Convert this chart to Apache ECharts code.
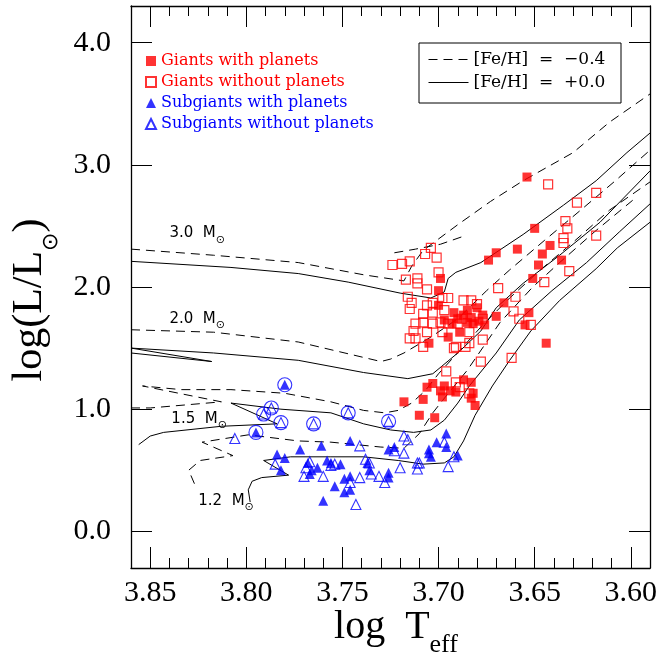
<!DOCTYPE html>
<html><head><meta charset="utf-8">
<script src="https://cdn.jsdelivr.net/npm/echarts@6/dist/echarts.min.js"></script>
<style>html,body{margin:0;padding:0;background:#fff}#c{width:666px;height:661px}</style>
</head><body><div id="c"></div>
<script>
// ---- tick labels ----
const X_MAJOR = [3.60, 3.65, 3.70, 3.75, 3.80, 3.85];
const X_MINOR = [3.60,3.61,3.62,3.63,3.64,3.65,3.66,3.67,3.68,3.69,3.70,3.71,3.72,3.73,3.74,3.75,3.76,3.77,3.78,3.79,3.80,3.81,3.82,3.83,3.84,3.85];
const Y_MAJOR = [0, 1, 2, 3, 4];

// ---- legend names ----
const NAME_GP = 'Giants with planets';
const NAME_GN = 'Giants without planets';
const NAME_SP = 'Subgiants with planets';
const NAME_SN = 'Subgiants without planets';
const FE_M = '[Fe/H]  =  \u22120.4';
const FE_0 = '[Fe/H]  =  +0.0';

// ---- evolutionary tracks [log Teff, log L] ----
const TRACK_30_M04 = [[3.860,2.31],[3.817,2.26],[3.773,2.20],[3.739,2.10],[3.718,2.05],[3.714,2.17],[3.708,2.30],[3.690,2.51],[3.673,2.70],[3.656,2.87],[3.630,3.10],[3.611,3.35],[3.590,3.58]];
const TRACK_30_M04_LOOP = [[3.723,2.28],[3.712,2.31],[3.699,2.35],[3.688,2.41]];
const TRACK_30_P00 = [[3.860,2.21],[3.808,2.16],[3.773,2.11],[3.747,2.04],[3.720,1.95],[3.704,1.91],[3.697,1.96],[3.695,2.07],[3.691,2.12],[3.678,2.20],[3.656,2.43],[3.635,2.67],[3.618,2.87],[3.602,3.10],[3.590,3.26]];
const TRACK_20_M04 = [[3.860,1.65],[3.817,1.63],[3.773,1.55],[3.730,1.39],[3.725,1.41],[3.718,1.46],[3.704,1.59],[3.690,1.74],[3.675,1.97],[3.663,2.14],[3.645,2.38],[3.626,2.63],[3.608,2.87],[3.590,3.12]];
const TRACK_20_P00 = [[3.860,1.46],[3.818,1.39],[3.860,1.50],[3.817,1.46],[3.773,1.40],[3.739,1.30],[3.716,1.25],[3.703,1.29],[3.690,1.46],[3.678,1.64],[3.670,1.83],[3.656,2.03],[3.637,2.26],[3.616,2.53],[3.590,2.95]];
const TRACK_15_M04 = [[3.860,1.01],[3.850,1.01],[3.813,1.06],[3.854,1.19],[3.834,1.16],[3.808,1.16],[3.780,1.13],[3.756,1.06],[3.739,0.99],[3.728,0.97],[3.721,0.99],[3.714,1.05],[3.707,1.15],[3.700,1.29],[3.689,1.48],[3.677,1.69],[3.663,1.91],[3.647,2.14],[3.629,2.38],[3.611,2.63],[3.590,2.86]];
const TRACK_15_P00 = [[3.856,0.71],[3.850,0.78],[3.843,0.81],[3.813,0.86],[3.784,0.88],[3.808,1.05],[3.782,1.00],[3.756,0.97],[3.739,0.88],[3.725,0.83],[3.713,0.81],[3.704,0.83],[3.697,0.91],[3.690,1.05],[3.684,1.19],[3.670,1.46],[3.658,1.73],[3.641,1.97],[3.623,2.20],[3.606,2.45],[3.590,2.68]];
const TRACK_12_M04 = [[3.827,0.39],[3.830,0.50],[3.824,0.58],[3.807,0.62],[3.823,0.73],[3.799,0.79],[3.773,0.74],[3.756,0.73],[3.730,0.69],[3.718,0.68],[3.710,0.80],[3.703,0.97],[3.698,1.07],[3.685,1.32],[3.668,1.71],[3.651,2.00],[3.637,2.20],[3.619,2.45],[3.599,2.71]];
const TRACK_12_P00 = [[3.798,0.24],[3.799,0.34],[3.797,0.41],[3.792,0.44],[3.778,0.46],[3.791,0.58],[3.777,0.61],[3.756,0.61],[3.739,0.61],[3.721,0.58],[3.708,0.55],[3.697,0.56],[3.692,0.61],[3.687,0.74],[3.681,0.95],[3.672,1.19],[3.663,1.40],[3.652,1.64],[3.637,1.89],[3.618,2.15],[3.607,2.32],[3.590,2.53]];

// ---- stars [log Teff, log L] ----
const GIANTS_PL = [[3.654,2.90],[3.650,2.48],[3.642,2.34],[3.646,2.27],[3.636,2.22],[3.659,2.31],[3.670,2.28],[3.674,2.22],[3.648,2.18],[3.651,2.07],[3.699,2.07],[3.700,1.97],[3.700,1.85],[3.666,1.87],[3.653,1.79],[3.655,1.69],[3.670,1.76],[3.676,1.69],[3.689,1.63],[3.695,1.59],[3.705,1.54],[3.644,1.54],[3.692,1.79],[3.687,1.77],[3.683,1.75],[3.680,1.83],[3.677,1.77],[3.685,1.71],[3.682,1.70],[3.690,1.74],[3.685,1.81],[3.697,1.73],[3.679,1.72],[3.693,1.70],[3.706,1.18],[3.703,1.21],[3.699,1.15],[3.697,1.19],[3.694,1.15],[3.698,1.10],[3.687,1.24],[3.683,1.22],[3.682,1.13],[3.683,1.09],[3.681,1.03],[3.708,1.08],[3.718,1.06],[3.702,0.93],[3.710,0.95],[3.691,1.14]];
const GIANTS_NOPL = [[3.643,2.84],[3.628,2.69],[3.618,2.77],[3.634,2.54],[3.633,2.48],[3.635,2.40],[3.635,2.36],[3.618,2.42],[3.632,2.13],[3.645,2.04],[3.660,1.92],[3.669,1.99],[3.661,1.80],[3.658,1.74],[3.652,1.69],[3.677,1.57],[3.684,1.54],[3.686,1.51],[3.692,1.50],[3.708,1.51],[3.678,1.39],[3.662,1.42],[3.696,1.31],[3.691,1.22],[3.689,1.18],[3.684,1.13],[3.704,2.32],[3.707,2.27],[3.701,2.24],[3.715,2.21],[3.719,2.19],[3.724,2.18],[3.700,2.12],[3.717,2.06],[3.711,2.07],[3.711,2.03],[3.706,1.98],[3.716,1.92],[3.714,1.87],[3.715,1.82],[3.706,1.85],[3.703,1.87],[3.698,1.91],[3.695,1.91],[3.687,1.89],[3.683,1.89],[3.680,1.86],[3.708,1.78],[3.703,1.79],[3.697,1.81],[3.712,1.70],[3.708,1.71],[3.703,1.70],[3.699,1.71],[3.695,1.70],[3.713,1.64],[3.706,1.63],[3.698,1.63],[3.712,1.58],[3.715,1.58],[3.690,1.70],[3.688,1.74],[3.677,1.74],[3.684,1.63],[3.691,1.51]];
const SUB_PL = [[3.780,1.20],[3.795,0.81],[3.784,0.63],[3.780,0.60],[3.782,0.50],[3.772,0.67],[3.761,0.70],[3.746,0.74],[3.726,0.67],[3.723,0.69],[3.768,0.56],[3.758,0.58],[3.756,0.56],[3.751,0.55],[3.766,0.50],[3.763,0.52],[3.767,0.47],[3.749,0.43],[3.746,0.45],[3.736,0.50],[3.726,0.48],[3.726,0.44],[3.754,0.37],[3.749,0.32],[3.746,0.34],[3.760,0.25],[3.705,0.67],[3.705,0.64],[3.704,0.61],[3.701,0.73],[3.696,0.80],[3.696,0.69],[3.690,0.62],[3.737,0.56]];
const SUB_NOPL = [[3.806,0.76],[3.741,0.70],[3.718,0.78],[3.716,0.75],[3.718,0.64],[3.723,0.66],[3.785,0.55],[3.767,0.57],[3.769,0.52],[3.754,0.55],[3.760,0.45],[3.770,0.45],[3.741,0.44],[3.738,0.59],[3.736,0.56],[3.735,0.47],[3.731,0.45],[3.728,0.40],[3.720,0.52],[3.711,0.51],[3.711,0.56],[3.710,0.56],[3.695,0.53],[3.697,0.73],[3.692,0.61],[3.746,0.40],[3.743,0.22],[3.756,0.54],[3.787,1.01],[3.791,0.96],[3.782,0.89],[3.765,0.88],[3.747,0.97],[3.726,0.90]];
const CIRCLED = [[3.780,1.20],[3.787,1.01],[3.791,0.96],[3.782,0.89],[3.765,0.88],[3.747,0.97],[3.726,0.90],[3.795,0.81]];

// ---- mass labels ----
const MASS_LABELS = ['3.0', '2.0', '1.5', '1.2'];
const MASS_LABEL_POS = [[3.840, 2.44], [3.840, 1.74], [3.839, 0.92], [3.825, 0.25]];

const RED = '#ff0000', BLUE = '#0000ff';
const SERIF = 'Liberation Serif';

const TRACKS = [
  [TRACK_30_M04, FE_M], [TRACK_30_M04_LOOP, FE_M], [TRACK_30_P00, FE_0],
  [TRACK_20_M04, FE_M], [TRACK_20_P00, FE_0],
  [TRACK_15_M04, FE_M], [TRACK_15_P00, FE_0],
  [TRACK_12_M04, FE_M], [TRACK_12_P00, FE_0]
];

const series = TRACKS.map(([d, name]) => ({
  type: 'line', name, data: d, symbol: 'none', showSymbol: false, silent: true, z: 2,
  itemStyle: { color: '#000' },
  lineStyle: { color: '#000', width: 1, type: name === FE_M ? [9, 6] : 'solid' }
}));

const emptyFill = 'rgba(255,255,255,0)';
series.push(
  { type: 'scatter', name: NAME_GP, data: GIANTS_PL, symbol: 'rect', symbolSize: 9, z: 4,
    itemStyle: { color: RED } },
  { type: 'scatter', name: NAME_GN, data: GIANTS_NOPL, symbol: 'rect', symbolSize: 9, z: 3,
    itemStyle: { color: emptyFill, borderColor: RED, borderWidth: 1.2 } },
  { type: 'scatter', name: NAME_SP, data: SUB_PL, symbol: 'triangle', symbolSize: 10, z: 4,
    itemStyle: { color: BLUE } },
  { type: 'scatter', name: NAME_SN, data: SUB_NOPL, symbol: 'triangle', symbolSize: 10, z: 3,
    itemStyle: { color: emptyFill, borderColor: BLUE, borderWidth: 1.1 } },
  { type: 'scatter', name: 'circled', data: CIRCLED, symbol: 'circle', symbolSize: 14, z: 3,
    itemStyle: { color: emptyFill, borderColor: BLUE, borderWidth: 1.1 } }
);

function xAxisDef(pos, major) {
  return {
    type: 'value', position: pos, min: 3.59, max: 3.86, inverse: true,
    axisLine: { show: major, onZero: false, lineStyle: { color: '#000', width: 1.3 } },
    axisTick: { show: true, inside: true, length: major ? 21 : 10,
      customValues: major ? X_MAJOR : X_MINOR, lineStyle: { color: '#000', width: 1 } },
    axisLabel: (pos === 'bottom' && major) ? {
      show: true, customValues: X_MAJOR, formatter: v => v.toFixed(2),
      fontFamily: SERIF, fontSize: 30, color: '#000', margin: 10
    } : { show: false },
    splitLine: { show: false }
  };
}
function yAxisDef(pos) {
  return {
    type: 'value', position: pos, min: -0.3, max: 4.3,
    axisLine: { show: true, onZero: false, lineStyle: { color: '#000', width: 1.3 } },
    axisTick: { show: true, inside: true, length: 21, customValues: Y_MAJOR, lineStyle: { color: '#000', width: 1 } },
    axisLabel: pos === 'left' ? {
      show: true, customValues: Y_MAJOR, formatter: v => v.toFixed(1),
      fontFamily: SERIF, fontSize: 30, color: '#000', margin: 20
    } : { show: false },
    splitLine: { show: false }
  };
}

const chart = echarts.init(document.getElementById('c'), null, { renderer: 'canvas' });
chart.setOption({
  animation: false,
  backgroundColor: '#fff',
  grid: { left: 131, right: 16, top: 6, bottom: 93 },
  xAxis: [xAxisDef('bottom', true), xAxisDef('bottom', false), xAxisDef('top', true), xAxisDef('top', false)],
  yAxis: [yAxisDef('left'), yAxisDef('right')],
  legend: [
    {
      orient: 'vertical', left: 145, top: 53, padding: 0, itemGap: 5, itemWidth: 10, itemHeight: 10,
      selectedMode: false,
      textStyle: { fontFamily: 'DejaVu Serif', fontSize: 16 },
      data: [
        { name: NAME_GP, textStyle: { color: RED } },
        { name: NAME_GN, textStyle: { color: RED } },
        { name: NAME_SP, textStyle: { color: BLUE } },
        { name: NAME_SN, textStyle: { color: BLUE } }
      ]
    },
    {
      orient: 'vertical', left: 428, top: 51, padding: 0, itemGap: 6, itemWidth: 40, itemHeight: 12,
      selectedMode: false,
      itemStyle: { color: 'rgba(0,0,0,0)', borderWidth: 0, opacity: 0 },
      lineStyle: { color: '#000', width: 1 },
      textStyle: { fontFamily: 'DejaVu Serif', fontSize: 17, color: '#000' },
      data: [FE_M, FE_0]
    }
  ],
  series
});

const gfx = [
  { type: 'rect', shape: { x: 419, y: 43, width: 202, height: 60 }, silent: true, z: 10,
    style: { fill: 'rgba(0,0,0,0)', stroke: '#000', lineWidth: 1 } },
  { type: 'text', x: 396, y: 627, silent: true, z: 10,
    style: { text: 'log  T{s|eff}', fontFamily: SERIF, fontSize: 40, lineHeight: 62, fill: '#000',
      align: 'center', verticalAlign: 'middle',
      rich: { s: { fontFamily: SERIF, fontSize: 26, lineHeight: 26, verticalAlign: 'bottom' } } } },
  { type: 'text', x: 30, y: 300, rotation: Math.PI / 2, silent: true, z: 10,
    style: { text: 'log(L/L{s|\u2299})', fontFamily: SERIF, fontSize: 42, lineHeight: 64, fill: '#000',
      align: 'center', verticalAlign: 'middle',
      rich: { s: { fontFamily: 'DejaVu Sans', fontSize: 22, lineHeight: 26, verticalAlign: 'bottom' } } } }
];
MASS_LABELS.forEach((t, i) => {
  const p = chart.convertToPixel({ xAxisIndex: 0, yAxisIndex: 0 }, MASS_LABEL_POS[i]);
  gfx.push({ type: 'text', x: p[0], y: p[1], silent: true, z: 10,
    style: { text: t + '  M{s|\u2299}', fontFamily: 'DejaVu Sans', fontSize: 15, lineHeight: 24,
      fill: '#000', align: 'left', verticalAlign: 'middle',
      rich: { s: { fontFamily: 'DejaVu Sans', fontSize: 11, lineHeight: 11, verticalAlign: 'bottom' } } } });
});
chart.setOption({ graphic: gfx });
</script>
</body></html>
